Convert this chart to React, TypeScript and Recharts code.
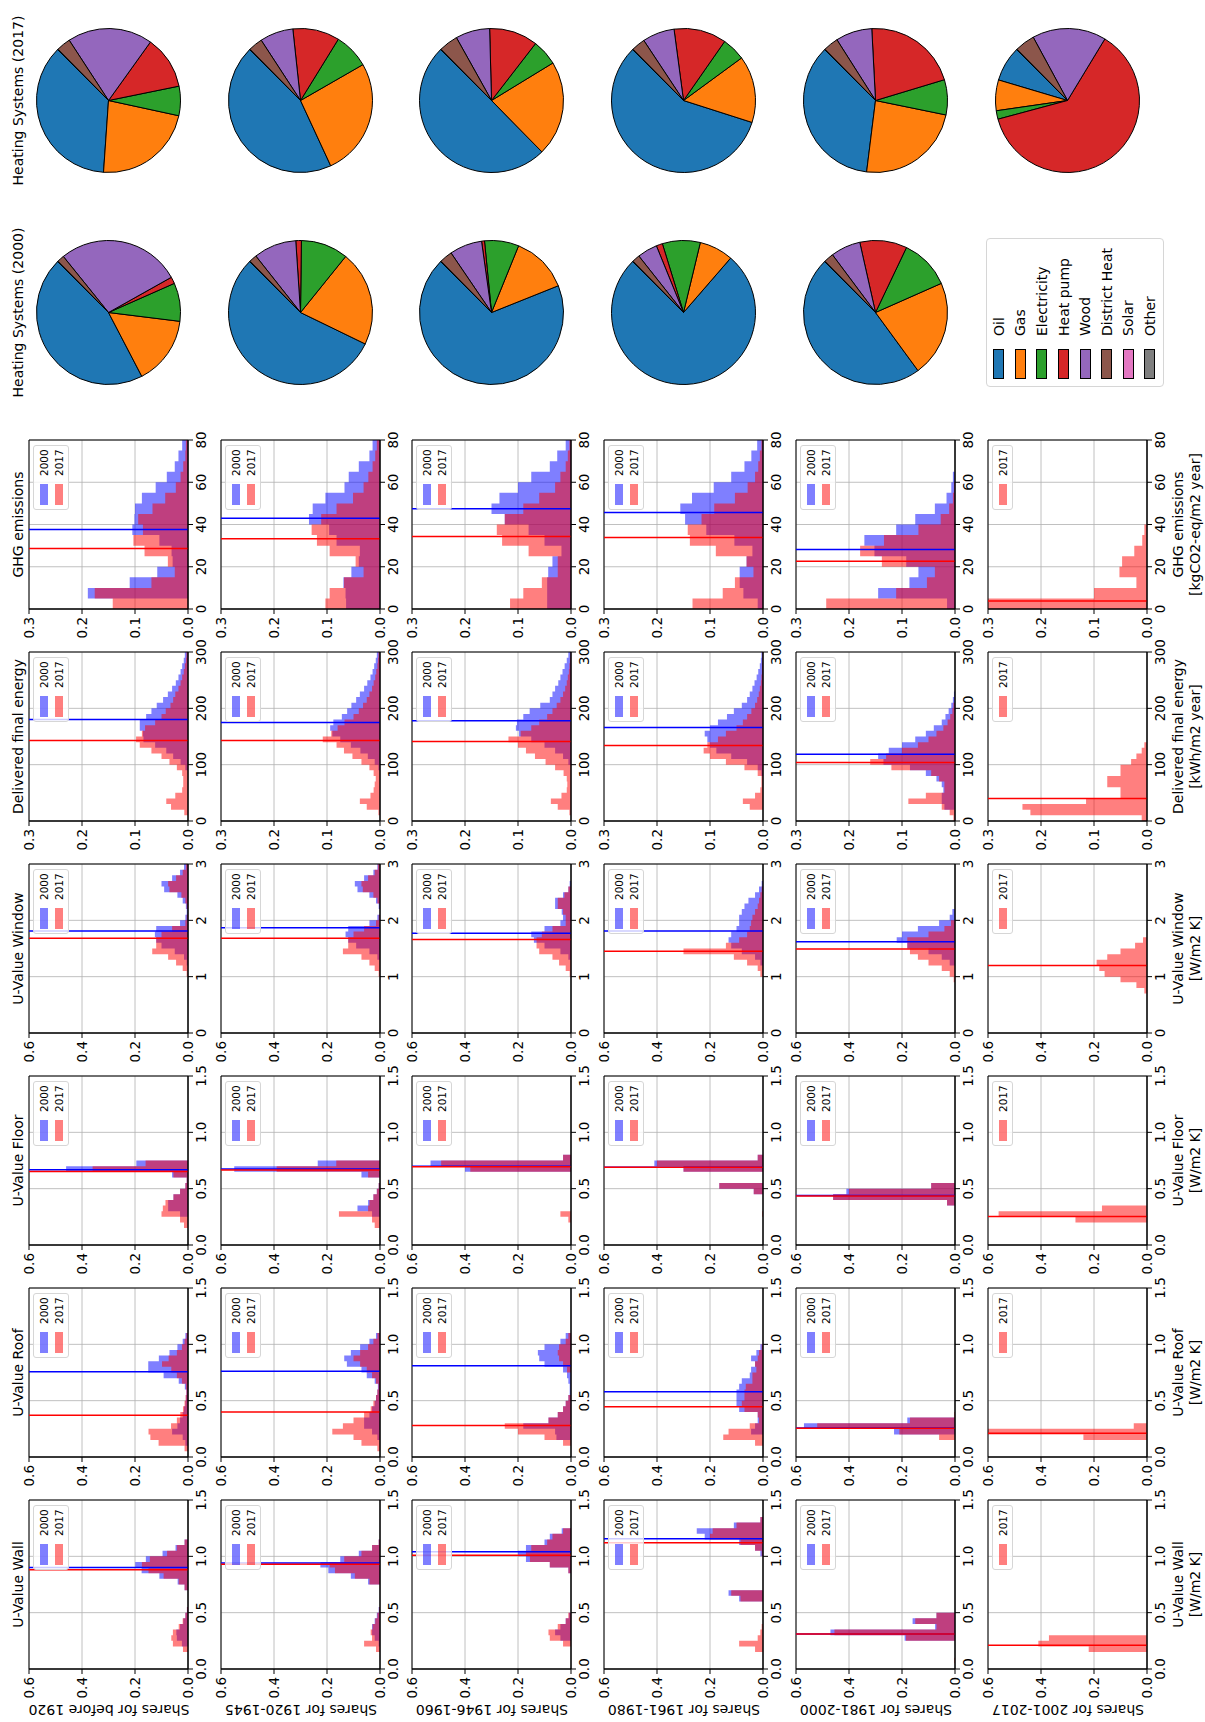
import React from 'react';
import {
  AreaChart,
  Area,
  XAxis,
  YAxis,
  CartesianGrid,
  ReferenceLine,
  ReferenceArea,
  Legend,
  PieChart,
  Pie,
  Cell
} from 'recharts';

const FONT = '"DejaVu Sans", Verdana, sans-serif';

const ageClasses = ['before 1920', '1920-1945', '1946-1960', '1961-1980', '1981-2000', '2001-2017'];
const yearLabels = ['2000', '2017'];
const yearColors = ['blue', 'red'];

const heatingSystems = ['Oil', 'Gas', 'Electricity', 'Heat pump', 'Wood', 'District Heat', 'Solar', 'Other'];
const systemColors = ['#1f77b4', '#ff7f0e', '#2ca02c', '#d62728', '#9467bd', '#8c564b', '#e377c2', '#7f7f7f'];

// tick positions
const uValueTicks = [0, 0.5, 1, 1.5];
const windowTicks = [0, 1, 2, 3];
const energyTicks = [0, 100, 200, 300];
const ghgTicks = [0, 20, 40, 60, 80];
const uShareTicks = [0, 0.2, 0.4, 0.6];
const energyShareTicks = [0, 0.1, 0.2, 0.3];

// histogram shares per bin, one row per age class (null: no 2000 stock)
const wallShares2000 = [
  [0, 0, 0, 0, 0.023, 0.042, 0.044, 0.03, 0.018, 0.01, 0.004, 0, 0, 0, 0.013, 0.039, 0.108, 0.175, 0.199, 0.159, 0.096, 0.047, 0.013, 0, 0, 0, 0, 0, 0, 0],
  [0, 0, 0, 0, 0.005, 0.02, 0.03, 0.03, 0.02, 0.012, 0.005, 0, 0, 0, 0, 0.045, 0.11, 0.195, 0.225, 0.15, 0.08, 0.03, 0.005, 0, 0, 0, 0, 0, 0, 0],
  [0, 0, 0, 0, 0, 0.04, 0.06, 0.04, 0.02, 0.008, 0, 0, 0, 0, 0, 0, 0, 0.01, 0.08, 0.17, 0.2, 0.17, 0.1, 0.08, 0.035, 0, 0, 0, 0, 0],
  [0, 0, 0, 0, 0, 0, 0, 0, 0, 0, 0, 0, 0.09, 0.13, 0, 0, 0, 0, 0, 0, 0.01, 0.03, 0.09, 0.22, 0.25, 0.11, 0.01, 0, 0, 0],
  [0, 0, 0, 0, 0, 0.19, 0.47, 0.075, 0.16, 0.07, 0, 0, 0, 0, 0, 0, 0, 0, 0, 0, 0, 0, 0, 0, 0, 0, 0, 0, 0, 0],
  null
];
const wallShares2017 = [
  [0, 0, 0, 0.019, 0.057, 0.063, 0.057, 0.035, 0.02, 0.01, 0.004, 0, 0, 0, 0.013, 0.035, 0.092, 0.149, 0.174, 0.144, 0.079, 0.042, 0.013, 0, 0, 0, 0, 0, 0, 0],
  [0, 0, 0, 0.015, 0.06, 0.03, 0.035, 0.028, 0.018, 0.01, 0.004, 0, 0, 0, 0, 0.04, 0.095, 0.17, 0.19, 0.135, 0.07, 0.03, 0.005, 0, 0, 0, 0, 0, 0, 0],
  [0, 0, 0, 0, 0.03, 0.08, 0.085, 0.05, 0.02, 0.01, 0, 0, 0, 0, 0, 0, 0, 0.01, 0.08, 0.155, 0.17, 0.15, 0.09, 0.07, 0.03, 0, 0, 0, 0, 0],
  [0, 0, 0, 0.03, 0.09, 0.02, 0.01, 0.005, 0, 0, 0, 0, 0.085, 0.12, 0, 0, 0, 0, 0, 0, 0.005, 0.03, 0.085, 0.2, 0.19, 0.1, 0.01, 0, 0, 0],
  [0, 0.003, 0, 0, 0, 0.185, 0.455, 0.07, 0.15, 0.07, 0, 0, 0, 0, 0, 0, 0, 0, 0, 0, 0, 0, 0, 0, 0, 0, 0, 0, 0, 0],
  [0, 0, 0, 0.22, 0.41, 0.37, 0, 0, 0, 0, 0, 0, 0, 0, 0, 0, 0, 0, 0, 0, 0, 0, 0, 0, 0, 0, 0, 0, 0, 0]
];
const wallMean2000 = [0.9, 0.94, 1.04, 1.156, 0.31, null];
const wallMean2017 = [0.88, 0.93, 1.01, 1.12, 0.31, 0.21];

const roofShares2000 = [
  [0, 0, 0.01, 0.02, 0.06, 0.04, 0.03, 0.02, 0.015, 0.01, 0.008, 0.006, 0.012, 0.035, 0.092, 0.15, 0.15, 0.11, 0.07, 0.04, 0.02, 0.01, 0, 0, 0, 0, 0, 0, 0, 0],
  [0, 0, 0, 0.01, 0.03, 0.06, 0.06, 0.04, 0.03, 0.02, 0.015, 0.01, 0.008, 0.02, 0.05, 0.07, 0.125, 0.135, 0.11, 0.075, 0.04, 0.015, 0, 0, 0, 0, 0, 0, 0, 0],
  [0, 0, 0, 0.055, 0.06, 0.18, 0.085, 0.05, 0.03, 0.02, 0.01, 0.005, 0.005, 0.01, 0.015, 0.03, 0.1, 0.12, 0.125, 0.1, 0.04, 0.02, 0, 0, 0, 0, 0, 0, 0, 0],
  [0, 0, 0, 0, 0.045, 0.03, 0.02, 0.02, 0.09, 0.1, 0.1, 0.1, 0.09, 0.08, 0.05, 0.045, 0.03, 0.045, 0.025, 0.01, 0, 0, 0, 0, 0, 0, 0, 0, 0, 0],
  [0, 0, 0, 0, 0.23, 0.57, 0.18, 0, 0, 0, 0, 0, 0, 0, 0, 0, 0, 0, 0, 0, 0, 0, 0, 0, 0, 0, 0, 0, 0, 0],
  null
];
const roofShares2017 = [
  [0, 0.013, 0.111, 0.142, 0.149, 0.064, 0.042, 0.029, 0.019, 0.013, 0.009, 0.006, 0.008, 0.023, 0.042, 0.063, 0.098, 0.073, 0.042, 0.023, 0.013, 0.006, 0, 0, 0, 0, 0, 0, 0, 0],
  [0, 0.01, 0.07, 0.1, 0.18, 0.14, 0.1, 0.06, 0.035, 0.025, 0.015, 0.01, 0.006, 0.015, 0.03, 0.05, 0.075, 0.1, 0.075, 0.045, 0.025, 0.01, 0, 0, 0, 0, 0, 0, 0, 0],
  [0, 0, 0.03, 0.1, 0.2, 0.25, 0.085, 0.05, 0.03, 0.02, 0.01, 0, 0, 0, 0, 0.015, 0.03, 0.045, 0.05, 0.045, 0.02, 0.01, 0, 0, 0, 0, 0, 0, 0, 0],
  [0, 0, 0.03, 0.15, 0.13, 0.05, 0.015, 0.02, 0.07, 0.08, 0.07, 0.07, 0.065, 0.04, 0.04, 0.025, 0.03, 0.02, 0.015, 0.005, 0, 0, 0, 0, 0, 0, 0, 0, 0, 0],
  [0, 0, 0, 0.06, 0.21, 0.52, 0.17, 0.003, 0, 0, 0, 0, 0, 0, 0, 0, 0, 0, 0, 0, 0, 0, 0, 0, 0, 0, 0, 0, 0, 0],
  [0, 0, 0, 0.24, 0.68, 0.05, 0, 0, 0, 0, 0, 0, 0, 0, 0, 0, 0, 0, 0, 0, 0, 0, 0, 0, 0, 0, 0, 0, 0, 0]
];
const roofMean2000 = [0.757, 0.76, 0.81, 0.58, 0.258, null];
const roofMean2017 = [0.371, 0.4, 0.28, 0.445, 0.255, 0.21];

const floorShares2000 = [
  [0, 0, 0, 0, 0, 0.03, 0.075, 0.075, 0.055, 0.03, 0.01, 0.005, 0.06, 0.46, 0.195, 0, 0, 0, 0, 0, 0, 0, 0, 0, 0, 0, 0, 0, 0, 0],
  [0, 0, 0, 0, 0, 0.03, 0.085, 0.045, 0.025, 0.012, 0.005, 0, 0.07, 0.55, 0.235, 0, 0, 0, 0, 0, 0, 0, 0, 0, 0, 0, 0, 0, 0, 0],
  [0, 0, 0, 0, 0, 0, 0, 0, 0, 0, 0, 0, 0, 0.4, 0.53, 0.03, 0, 0, 0, 0, 0, 0, 0, 0, 0, 0, 0, 0, 0, 0],
  [0, 0, 0, 0, 0, 0, 0, 0, 0, 0.035, 0.165, 0, 0, 0.3, 0.41, 0.02, 0, 0, 0, 0, 0, 0, 0, 0, 0, 0, 0, 0, 0, 0],
  [0, 0, 0, 0, 0, 0, 0, 0.03, 0.46, 0.41, 0.09, 0, 0, 0, 0, 0, 0, 0, 0, 0, 0, 0, 0, 0, 0, 0, 0, 0, 0, 0],
  null
];
const floorShares2017 = [
  [0, 0, 0, 0.015, 0.03, 0.1, 0.095, 0.085, 0.055, 0.03, 0.01, 0.005, 0.055, 0.36, 0.16, 0, 0, 0, 0, 0, 0, 0, 0, 0, 0, 0, 0, 0, 0, 0],
  [0, 0, 0, 0.02, 0.03, 0.155, 0.045, 0.04, 0.025, 0.012, 0.005, 0, 0.045, 0.39, 0.165, 0, 0, 0, 0, 0, 0, 0, 0, 0, 0, 0, 0, 0, 0, 0],
  [0, 0, 0, 0, 0.01, 0.04, 0, 0, 0, 0, 0, 0, 0, 0.38, 0.49, 0.03, 0, 0, 0, 0, 0, 0, 0, 0, 0, 0, 0, 0, 0, 0],
  [0, 0, 0, 0, 0, 0.003, 0, 0, 0, 0.035, 0.165, 0, 0, 0.3, 0.4, 0.02, 0, 0, 0, 0, 0, 0, 0, 0, 0, 0, 0, 0, 0, 0],
  [0, 0, 0, 0, 0, 0, 0, 0.03, 0.46, 0.4, 0.09, 0, 0, 0, 0, 0, 0, 0, 0, 0, 0, 0, 0, 0, 0, 0, 0, 0, 0, 0],
  [0, 0, 0, 0, 0.27, 0.56, 0.17, 0, 0, 0, 0, 0, 0, 0, 0, 0, 0, 0, 0, 0, 0, 0, 0, 0, 0, 0, 0, 0, 0, 0]
];
const floorMean2000 = [0.668, 0.675, 0.7, 0.69, 0.44, null];
const floorMean2017 = [0.653, 0.665, 0.695, 0.69, 0.434, 0.254];

const windowShares2000 = [
  [0, 0, 0, 0, 0, 0, 0, 0, 0, 0, 0, 0, 0.005, 0.015, 0.05, 0.1, 0.12, 0.125, 0.12, 0.03, 0.01, 0.005, 0.008, 0.02, 0.04, 0.09, 0.1, 0.06, 0.03, 0.015],
  [0, 0, 0, 0, 0, 0, 0, 0, 0, 0, 0, 0, 0, 0.01, 0.04, 0.09, 0.12, 0.13, 0.12, 0.04, 0.01, 0, 0.005, 0.015, 0.04, 0.085, 0.095, 0.06, 0.025, 0.01],
  [0, 0, 0, 0, 0, 0, 0, 0, 0, 0, 0, 0, 0, 0.01, 0.04, 0.1, 0.14, 0.15, 0.1, 0.04, 0.03, 0.035, 0.06, 0.06, 0.03, 0.01, 0.005, 0, 0, 0],
  [0, 0, 0, 0, 0, 0, 0, 0, 0, 0, 0, 0, 0.01, 0.03, 0.08, 0.12, 0.13, 0.12, 0.1, 0.09, 0.09, 0.08, 0.07, 0.055, 0.03, 0.015, 0.005, 0, 0, 0],
  [0, 0, 0, 0, 0, 0, 0, 0, 0, 0, 0, 0, 0.02, 0.05, 0.1, 0.18, 0.22, 0.2, 0.14, 0.06, 0.02, 0.01, 0, 0, 0, 0, 0, 0, 0, 0],
  null
];
const windowShares2017 = [
  [0, 0, 0, 0, 0, 0, 0, 0, 0, 0, 0.005, 0.02, 0.045, 0.075, 0.135, 0.12, 0.12, 0.1, 0.06, 0.01, 0.005, 0, 0.005, 0.01, 0.025, 0.07, 0.075, 0.045, 0.02, 0.008],
  [0, 0, 0, 0, 0, 0, 0, 0, 0, 0, 0.005, 0.02, 0.04, 0.07, 0.14, 0.12, 0.12, 0.1, 0.06, 0.015, 0.005, 0, 0, 0.01, 0.025, 0.065, 0.07, 0.045, 0.02, 0.008],
  [0, 0, 0, 0, 0, 0, 0, 0, 0, 0, 0.005, 0.02, 0.045, 0.07, 0.12, 0.13, 0.13, 0.11, 0.07, 0.02, 0.02, 0.03, 0.05, 0.05, 0.025, 0.01, 0, 0, 0, 0],
  [0, 0, 0, 0, 0, 0, 0, 0, 0, 0, 0.01, 0.02, 0.06, 0.11, 0.3, 0.14, 0.09, 0.06, 0.05, 0.045, 0.04, 0.03, 0.02, 0.015, 0.01, 0.005, 0, 0, 0, 0],
  [0, 0, 0, 0, 0, 0, 0, 0, 0, 0.005, 0.02, 0.05, 0.1, 0.14, 0.17, 0.18, 0.18, 0.1, 0.04, 0.015, 0, 0, 0, 0, 0, 0, 0, 0, 0, 0],
  [0, 0, 0, 0, 0, 0, 0, 0.01, 0.04, 0.1, 0.16, 0.18, 0.19, 0.15, 0.1, 0.045, 0.015, 0, 0, 0, 0, 0, 0, 0, 0, 0, 0, 0, 0, 0]
];
const windowMean2000 = [1.81, 1.87, 1.77, 1.81, 1.62, null];
const windowMean2017 = [1.68, 1.68, 1.66, 1.45, 1.49, 1.2];

const energyShares2000 = [
  [0, 0, 0, 0, 0, 0, 0, 0, 0, 0.005, 0.014, 0.028, 0.041, 0.062, 0.084, 0.085, 0.091, 0.091, 0.079, 0.069, 0.059, 0.047, 0.038, 0.03, 0.023, 0.018, 0.014, 0.011, 0.008, 0.006],
  [0, 0, 0, 0, 0, 0, 0, 0, 0, 0.003, 0.01, 0.023, 0.037, 0.055, 0.075, 0.09, 0.094, 0.088, 0.072, 0.062, 0.054, 0.045, 0.038, 0.03, 0.024, 0.018, 0.014, 0.011, 0.008, 0.006],
  [0, 0, 0, 0, 0, 0, 0, 0, 0, 0, 0.005, 0.015, 0.03, 0.05, 0.075, 0.098, 0.104, 0.102, 0.09, 0.078, 0.058, 0.04, 0.035, 0.03, 0.024, 0.02, 0.016, 0.012, 0.008, 0.005],
  [0, 0, 0, 0, 0, 0, 0, 0, 0.003, 0.01, 0.03, 0.06, 0.088, 0.1, 0.105, 0.11, 0.1, 0.085, 0.068, 0.055, 0.04, 0.03, 0.025, 0.02, 0.016, 0.012, 0.009, 0.006, 0.004, 0.003],
  [0, 0, 0.02, 0.025, 0.025, 0.022, 0.025, 0.035, 0.055, 0.085, 0.135, 0.145, 0.125, 0.1, 0.075, 0.055, 0.04, 0.025, 0.018, 0.012, 0.007, 0.004, 0.002, 0, 0, 0, 0, 0, 0, 0],
  null
];
const energyShares2017 = [
  [0, 0.007, 0.032, 0.041, 0.024, 0.011, 0.009, 0.009, 0.011, 0.021, 0.035, 0.05, 0.069, 0.091, 0.098, 0.087, 0.081, 0.062, 0.05, 0.042, 0.033, 0.028, 0.024, 0.018, 0.014, 0.011, 0.008, 0.006, 0.004, 0.003],
  [0, 0.003, 0.025, 0.038, 0.018, 0.012, 0.01, 0.008, 0.012, 0.02, 0.035, 0.052, 0.068, 0.082, 0.108, 0.092, 0.08, 0.067, 0.05, 0.04, 0.032, 0.025, 0.02, 0.015, 0.012, 0.009, 0.007, 0.005, 0.004, 0.003],
  [0, 0.003, 0.025, 0.038, 0.018, 0.008, 0.007, 0.008, 0.014, 0.03, 0.048, 0.068, 0.085, 0.1, 0.118, 0.095, 0.075, 0.06, 0.045, 0.035, 0.027, 0.02, 0.015, 0.011, 0.008, 0.006, 0.004, 0.003, 0.002, 0.001],
  [0, 0, 0.025, 0.038, 0.015, 0.005, 0.003, 0.003, 0.01, 0.035, 0.07, 0.1, 0.112, 0.105, 0.085, 0.07, 0.05, 0.038, 0.03, 0.022, 0.015, 0.011, 0.008, 0.006, 0.004, 0.003, 0.002, 0.002, 0.001, 0.001],
  [0.003, 0.01, 0.025, 0.088, 0.055, 0.02, 0.02, 0.03, 0.045, 0.12, 0.16, 0.13, 0.1, 0.07, 0.05, 0.035, 0.022, 0.014, 0.009, 0.005, 0.003, 0, 0, 0, 0, 0, 0, 0, 0, 0],
  [0.01, 0.22, 0.235, 0.115, 0.05, 0.05, 0.075, 0.075, 0.05, 0.05, 0.03, 0.02, 0.01, 0.005, 0, 0, 0, 0, 0, 0, 0, 0, 0, 0, 0, 0, 0, 0, 0, 0]
];
const energyMean2000 = [180, 175, 178, 166, 118.5, null];
const energyMean2017 = [143, 143, 141, 134, 104, 40];

const ghgShares2000 = [
  [0, 0.189, 0.11, 0.058, 0.029, 0.031, 0.054, 0.105, 0.101, 0.1, 0.087, 0.061, 0.04, 0.025, 0.018, 0.011],
  [0.064, 0.065, 0.069, 0.054, 0.04, 0.038, 0.082, 0.096, 0.134, 0.127, 0.103, 0.067, 0.059, 0.04, 0.02, 0.014],
  [0.045, 0.045, 0.045, 0.043, 0.035, 0.018, 0.05, 0.08, 0.125, 0.15, 0.135, 0.1, 0.075, 0.04, 0.026, 0.01],
  [0.01, 0.037, 0.044, 0.044, 0.031, 0.02, 0.054, 0.107, 0.147, 0.156, 0.134, 0.093, 0.06, 0.035, 0.022, 0.011],
  [0.015, 0.145, 0.086, 0.069, 0.092, 0.152, 0.171, 0.111, 0.075, 0.038, 0.016, 0.007, 0.004, 0, 0, 0],
  null
];
const ghgShares2017 = [
  [0.142, 0.176, 0.069, 0.025, 0.038, 0.082, 0.103, 0.085, 0.094, 0.067, 0.043, 0.023, 0.014, 0.009, 0.005, 0.004],
  [0.103, 0.095, 0.068, 0.031, 0.046, 0.095, 0.119, 0.129, 0.111, 0.082, 0.051, 0.031, 0.022, 0.014, 0.009, 0.006],
  [0.115, 0.09, 0.055, 0.025, 0.025, 0.08, 0.13, 0.14, 0.125, 0.09, 0.06, 0.03, 0.02, 0.01, 0.006, 0.003],
  [0.133, 0.076, 0.053, 0.018, 0.031, 0.089, 0.138, 0.142, 0.116, 0.092, 0.053, 0.029, 0.015, 0.009, 0.006, 0.003],
  [0.243, 0.111, 0.053, 0.038, 0.138, 0.179, 0.134, 0.069, 0.027, 0.011, 0.004, 0.002, 0, 0, 0, 0],
  [0.72, 0.1, 0.02, 0.052, 0.047, 0.024, 0.009, 0.005, 0, 0, 0, 0, 0, 0, 0, 0]
];
const ghgMean2000 = [37.6, 42.9, 47.4, 45.7, 28.2, null];
const ghgMean2017 = [28.6, 33.3, 34.3, 33.9, 22.6, 3.8];

// heating system shares in percent, order as heatingSystems
const heatingShares2000 = [
  [45.2, 15.4, 8.6, 1.5, 27.7, 1.6, 0, 0.1],
  [55.3, 21.4, 10.6, 1.25, 9.6, 1.75, 0, 0.1],
  [68.6, 12.8, 7.7, 0.65, 7.3, 2.9, 0, 0.1],
  [76.1, 7.6, 8.5, 1.4, 4.5, 1.75, 0, 0.1],
  [47.6, 21.6, 11.3, 10.6, 6.7, 2.2, 0, 0.1],
  null
];
const heatingShares2017 = [
  [36.4, 22.7, 6.6, 11.9, 19.1, 3.2, 0, 0.1],
  [44.4, 26.4, 7.9, 10.5, 7.5, 3.2, 0, 0.1],
  [49.9, 21.4, 5.8, 10.9, 7.7, 4.3, 0, 0.1],
  [57.6, 15.0, 5.25, 11.8, 7.2, 3.1, 0, 0.1],
  [35.6, 23.8, 7.9, 21.2, 8.2, 3.4, 0, 0.1],
  [7.9, 6.9, 1.9, 62.2, 16.6, 4.5, 0, 0.1]
];

type Variable = {
  title: string;
  unit: string;
  binWidth: number;
  xMax: number;
  xTicks: number[];
  xDigits: number;
  yMax: number;
  yTicks: number[];
  shares2000: (number[] | null)[];
  shares2017: number[][];
  mean2000: (number | null)[];
  mean2017: number[];
};

const variables: Variable[] = [
  { title: 'U-Value Wall', unit: '[W/m2 K]', binWidth: 0.05, xMax: 1.5, xTicks: uValueTicks, xDigits: 1, yMax: 0.6, yTicks: uShareTicks, shares2000: wallShares2000, shares2017: wallShares2017, mean2000: wallMean2000, mean2017: wallMean2017 },
  { title: 'U-Value Roof', unit: '[W/m2 K]', binWidth: 0.05, xMax: 1.5, xTicks: uValueTicks, xDigits: 1, yMax: 0.6, yTicks: uShareTicks, shares2000: roofShares2000, shares2017: roofShares2017, mean2000: roofMean2000, mean2017: roofMean2017 },
  { title: 'U-Value Floor', unit: '[W/m2 K]', binWidth: 0.05, xMax: 1.5, xTicks: uValueTicks, xDigits: 1, yMax: 0.6, yTicks: uShareTicks, shares2000: floorShares2000, shares2017: floorShares2017, mean2000: floorMean2000, mean2017: floorMean2017 },
  { title: 'U-Value Window', unit: '[W/m2 K]', binWidth: 0.1, xMax: 3, xTicks: windowTicks, xDigits: 0, yMax: 0.6, yTicks: uShareTicks, shares2000: windowShares2000, shares2017: windowShares2017, mean2000: windowMean2000, mean2017: windowMean2017 },
  { title: 'Delivered final energy', unit: '[kWh/m2 year]', binWidth: 10, xMax: 300, xTicks: energyTicks, xDigits: 0, yMax: 0.3, yTicks: energyShareTicks, shares2000: energyShares2000, shares2017: energyShares2017, mean2000: energyMean2000, mean2017: energyMean2017 },
  { title: 'GHG emissions', unit: '[kgCO2-eq/m2 year]', binWidth: 5, xMax: 80, xTicks: ghgTicks, xDigits: 0, yMax: 0.3, yTicks: energyShareTicks, shares2000: ghgShares2000, shares2017: ghgShares2017, mean2000: ghgMean2000, mean2017: ghgMean2017 }
];

// layout of the unrotated figure (1722 x 1205)
const FIG_W = 1722;
const FIG_H = 1205;
const PLOT_W = 169;
const PLOT_H = 159;
const COL_PITCH = 212;
const FIRST_COL = 53;
const rowTop = [29, 221, 412, 604, 796, 988];
const Y_AXIS_W = 40;
const X_AXIS_H = 26;
const M_TOP = 9;
const M_RIGHT = 16;

const colLeft = (i: number) => FIRST_COL + COL_PITCH * i;

function binRows(binWidth: number, a: number[] | null, b: number[]) {
  const rows = [];
  for (let i = 0; i <= b.length; i++) {
    rows.push({
      x: Math.round(i * binWidth * 1000) / 1000,
      s2000: a ? a[i] ?? 0 : null,
      s2017: b[i] ?? 0
    });
  }
  return rows;
}

const tickStyle = { fill: '#000', fontSize: 13.5, fontFamily: FONT };

function HistLegend({ entries }: { entries: number[] }) {
  return (
    <div
      style={{
        boxSizing: 'border-box',
        width: 65,
        padding: '2px 0 2px 4px',
        border: '1px solid #d6d6d6',
        borderRadius: 3,
        background: 'rgba(255,255,255,0.8)',
        fontFamily: FONT,
        fontSize: 10.5,
        color: '#000'
      }}
    >
      {entries.map((k) => (
        <div key={k} style={{ display: 'flex', alignItems: 'center', height: 15 }}>
          <span style={{ width: 21, height: 8, background: yearColors[k], opacity: 0.5, marginRight: 8 }} />
          <span>{yearLabels[k]}</span>
        </div>
      ))}
    </div>
  );
}

function SystemLegend() {
  return (
    <div
      style={{
        boxSizing: 'border-box',
        width: 149,
        height: 178,
        padding: '1px 0 0 7px',
        border: '1px solid #d6d6d6',
        borderRadius: 4,
        background: 'rgba(255,255,255,0.8)',
        fontFamily: FONT,
        fontSize: 14,
        color: '#000'
      }}
    >
      {heatingSystems.map((name, i) => (
        <div key={name} style={{ display: 'flex', alignItems: 'center', height: 21.6 }}>
          <span
            style={{
              boxSizing: 'border-box',
              width: 30,
              height: 11,
              background: systemColors[i],
              border: '1px solid #000',
              marginRight: 13
            }}
          />
          <span style={{ whiteSpace: 'nowrap' }}>{name}</span>
        </div>
      ))}
    </div>
  );
}

function HistPanel({ v, row }: { v: Variable; row: number }) {
  const base = v.shares2000[row];
  const data = binRows(v.binWidth, base, v.shares2017[row]);
  const m2000 = v.mean2000[row];
  const m2017 = v.mean2017[row];
  return (
    <AreaChart
      width={Y_AXIS_W + PLOT_W + M_RIGHT}
      height={M_TOP + PLOT_H + X_AXIS_H}
      data={data}
      margin={{ top: M_TOP, right: M_RIGHT, bottom: 0, left: 0 }}
    >
      <CartesianGrid stroke='#b0b0b0' strokeWidth={0.8} />
      <XAxis
        type='number'
        dataKey='x'
        domain={[0, v.xMax]}
        ticks={v.xTicks}
        interval={0}
        allowDataOverflow
        height={X_AXIS_H}
        tickSize={5}
        tickMargin={3}
        stroke='#000'
        tick={tickStyle}
        tickFormatter={(t: number) => t.toFixed(v.xDigits)}
      />
      <YAxis
        type='number'
        domain={[0, v.yMax]}
        ticks={v.yTicks}
        interval={0}
        allowDataOverflow
        width={Y_AXIS_W}
        tickSize={5}
        tickMargin={3}
        stroke='#000'
        tick={tickStyle}
        tickFormatter={(t: number) => t.toFixed(1)}
      />
      {base && (
        <Area
          type='stepAfter'
          dataKey='s2000'
          fill='blue'
          fillOpacity={0.5}
          stroke='none'
          dot={false}
          activeDot={false}
          isAnimationActive={false}
        />
      )}
      <Area
        type='stepAfter'
        dataKey='s2017'
        fill='red'
        fillOpacity={0.5}
        stroke='none'
        dot={false}
        activeDot={false}
        isAnimationActive={false}
      />
      {m2000 != null && <ReferenceLine x={m2000} stroke='blue' strokeWidth={1.5} />}
      <ReferenceLine x={m2017} stroke='red' strokeWidth={1.5} />
      <ReferenceArea x1={0} x2={v.xMax} y1={0} y2={v.yMax} fill='none' stroke='#000' strokeWidth={1} />
      <Legend
        layout='horizontal'
        verticalAlign='middle'
        align='center'
        wrapperStyle={{ left: Y_AXIS_W + PLOT_W - 70, top: M_TOP + 4, width: 65 }}
        content={() => <HistLegend entries={base ? [0, 1] : [1]} />}
      />
    </AreaChart>
  );
}

function PiePanel({ shares, withLegend }: { shares: number[]; withLegend: boolean }) {
  const data = heatingSystems.map((name, i) => ({ name, value: shares[i] }));
  return (
    <PieChart width={PLOT_W} height={PLOT_H} margin={{ top: 0, right: 0, bottom: 0, left: 0 }}>
      <Pie
        data={data}
        dataKey='value'
        nameKey='name'
        cx='50%'
        cy='50%'
        outerRadius={72}
        startAngle={45}
        endAngle={405}
        stroke='#000'
        strokeWidth={1}
        isAnimationActive={false}
      >
        {data.map((d, i) => (
          <Cell key={d.name} fill={systemColors[i]} />
        ))}
      </Pie>
      {withLegend && (
        <Legend
          layout='horizontal'
          verticalAlign='middle'
          align='center'
          wrapperStyle={{ left: -202, top: -2, width: 149 }}
          content={() => <SystemLegend />}
        />
      )}
    </PieChart>
  );
}

function Text({ x, y, children, rotate = 0, style = {} }: any) {
  return (
    <div
      style={{
        position: 'absolute',
        left: x,
        top: y,
        transform: `translate(-50%, -50%) rotate(${rotate}deg)`,
        whiteSpace: 'nowrap',
        fontSize: 14,
        color: '#000',
        ...style
      }}
    >
      {children}
    </div>
  );
}

export default function App() {
  const pieCols = [6, 7];
  return (
    <div style={{ position: 'absolute', left: 0, top: 0, width: FIG_H, height: FIG_W, overflow: 'hidden', background: '#fff' }}>
      <div
        style={{
          position: 'absolute',
          left: 0,
          top: 0,
          width: FIG_W,
          height: FIG_H,
          transformOrigin: '0 0',
          transform: `translate(0px, ${FIG_W}px) rotate(-90deg)`,
          fontFamily: FONT
        }}
      >
        {variables.map((v, c) => (
          <React.Fragment key={v.title}>
            <Text x={colLeft(c) + PLOT_W / 2} y={18}>{v.title}</Text>
            <Text x={colLeft(c) + PLOT_W / 2} y={1187} style={{ textAlign: 'center', lineHeight: '17px' }}>
              {v.title}
              <br />
              {v.unit}
            </Text>
            {ageClasses.map((_, r) => (
              <div key={r} style={{ position: 'absolute', left: colLeft(c) - Y_AXIS_W, top: rowTop[r] - M_TOP }}>
                <HistPanel v={v} row={r} />
              </div>
            ))}
          </React.Fragment>
        ))}

        <Text x={colLeft(pieCols[0]) + PLOT_W / 2} y={18}>Heating Systems (2000)</Text>
        <Text x={colLeft(pieCols[1]) + PLOT_W / 2} y={18}>Heating Systems (2017)</Text>
        {ageClasses.map((_, r) => (
          <React.Fragment key={r}>
            {heatingShares2000[r] && (
              <div style={{ position: 'absolute', left: colLeft(pieCols[0]), top: rowTop[r] }}>
                <PiePanel shares={heatingShares2000[r] as number[]} withLegend={false} />
              </div>
            )}
            <div style={{ position: 'absolute', left: colLeft(pieCols[1]), top: rowTop[r] }}>
              <PiePanel shares={heatingShares2017[r]} withLegend={r === ageClasses.length - 1} />
            </div>
          </React.Fragment>
        ))}

        {ageClasses.map((a, r) => (
          <Text key={a} x={12} y={rowTop[r] + PLOT_H / 2} rotate={-90}>
            Shares for {a}
          </Text>
        ))}
      </div>
    </div>
  );
}
